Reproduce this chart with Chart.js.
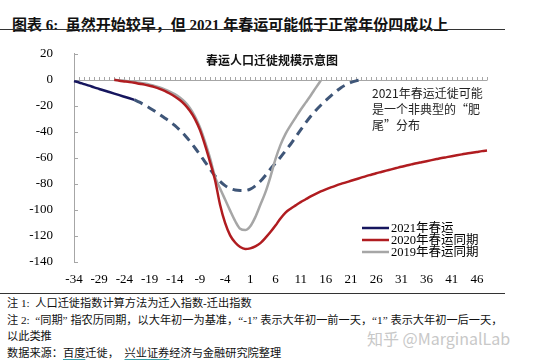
<!DOCTYPE html>
<html>
<head>
<meta charset="utf-8">
<script src="https://cdn.jsdelivr.net/npm/chart.js@4"></script>
<style>
  body { margin: 0; background: #fff; }
  #page { position: relative; width: 554px; height: 363px; overflow: hidden; font-family: "Liberation Serif", "Noto Sans CJK SC", serif; color: #111; }
  .abs { position: absolute; white-space: nowrap; }
  .rule { position: absolute; left: 0; width: 505px; height: 1px; background: #333; }
  .note { font-size: 11.2px; left: 7px; }
  .ul { text-decoration: underline; text-decoration-color: #3aa0a8; text-underline-offset: 2px; }
  canvas { display: block; }
</style>
</head>
<body>
<div id="page">
  <div class="abs" style="left:12px; top:13px; font-size:15px; font-weight:bold;">图表 6:&nbsp; 虽然开始较早，但 2021 年春运可能低于正常年份四成以上</div>
  <div class="rule" style="top:29px;"></div>

  <div class="abs" style="left:0; top:33px; width:554px; height:259px;">
    <canvas id="chart" width="554" height="259"></canvas>
  </div>

  <div class="abs" style="left:200px; top:51px; width:144px; text-align:center; font-size:12px; font-weight:bold; font-family:'Noto Sans CJK SC', sans-serif;">春运人口迁徙规模示意图</div>
  <div class="abs" style="left:372px; top:85px; font-size:12px; line-height:16px; font-family:'Noto Sans CJK SC', sans-serif; color:#222;">2021年春运迁徙可能<br>是一个非典型的“肥<br>尾”分布</div>

  <div class="rule" style="top:293px;"></div>
  <div class="abs note" style="top:294px;">注 1:&nbsp; 人口迁徙指数计算方法为迁入指数-迁出指数</div>
  <div class="abs note" style="top:311px;">注 2:&nbsp; “同期” 指农历同期，以大年初一为基准，“-1” 表示大年初一前一天，“1” 表示大年初一后一天，</div>
  <div class="abs note" style="top:327px;">以此类推</div>
  <div class="abs note" style="top:344px;">数据来源：<span class="ul">百度</span>迁徙，&nbsp; <span class="ul">兴业证券</span>经济与金融研究院整理</div>
  <div class="abs" style="left:367px; top:326px; font-size:16px; color:#c8c8c8; font-family:'Noto Sans CJK SC', sans-serif;">知乎 @MarginalLab</div>
</div>

<script>
// 以大年初一为基准的天数
var days = [-34, -33, -32, -31, -30, -29, -28, -27, -26, -25, -24, -23, -22, -21, -20, -19, -18, -17, -16, -15,
  -14, -13, -12, -11, -10, -9, -8, -7, -6, -5, -4, -3, -2, -1, 0, 1, 2, 3, 4, 5,
  6, 7, 8, 9, 10, 11, 12, 13, 14, 15, 16, 17, 18, 19, 20, 21, 22, 23, 24, 25,
  26, 27, 28, 29, 30, 31, 32, 33, 34, 35, 36, 37, 38, 39, 40, 41, 42, 43, 44, 45,
  46, 47, 48];

var yTicks = [20, 0, -20, -40, -60, -80, -100, -120, -140];

// 2021年春运 (实际, -34 ~ -22)
var data2021 = [-1, -2, -3.3, -4.5, -5.8, -7, -8.2, -9.4, -10.6, -11.8, -13, -14.2, -15.4];

// 2021年 "肥尾" 预估 (虚线, -22 ~ 23)
var data2021Est = [-15.4, -17.2, -19.3, -21.6, -24, -26.6, -29.3, -32, -35, -38.6,
  -42.6, -47.2, -52.2, -57.5, -63, -68.5, -73.8, -78, -81.3, -83.5,
  -84.7, -85, -85, -84, -81.5, -78, -73.5, -68.5, -64, -59.5,
  -54.5, -49.5, -44, -38.5, -33, -28, -23.5, -19.5, -15.8, -12.3,
  -9, -6, -3.8, -2, -0.8, 0];

// 2020年春运同期 (-26 ~ 48)
var data2020 = [0, -0.7, -1.2, -1.7, -2.3, -3, -3.7, -4.6, -5.6, -6.9,
  -8.5, -10.5, -12.8, -15.5, -19, -23.8, -30, -38.5, -50, -63,
  -77, -96, -110, -119.5, -125, -128.5, -130, -129.5, -128, -125.5,
  -121.5, -117, -112, -106.5, -102, -99, -96.5, -94, -91.8, -89.6,
  -87.6, -85.8, -84.2, -82.7, -81.3, -80, -78.8, -77.6, -76.4, -75.2,
  -74, -72.9, -71.8, -70.8, -69.8, -68.8, -67.8, -66.8, -65.9, -65,
  -64.1, -63.3, -62.5, -61.7, -60.9, -60.1, -59.4, -58.7, -58, -57.3,
  -56.6, -56, -55.4, -54.8, -54.3];

// 2019年春运同期 (-26 ~ 15)
var data2019 = [0, -0.3, -0.7, -1.1, -1.6, -2.2, -2.9, -3.7, -4.7, -5.9,
  -7.3, -9, -11, -13.6, -17, -21.6, -28, -36.5, -47.5, -60,
  -74.5, -83.5, -92, -100.5, -108.5, -114.5, -115.5, -112.5, -105.5, -96,
  -86.5, -74.5, -61, -50, -41.5, -35, -29, -23, -17.5, -12,
  -6.2, -0.5];

// 按天对齐到横轴
function place(values, firstDay) {
  var out = [];
  for (let i = 0; i < days.length; i++) {
    let k = days[i] - firstDay;
    out.push(k >= 0 && k < values.length ? values[k] : null);
  }
  return out;
}

const zeroAxisPlugin = {
  id: 'zeroAxis',
  beforeDatasetsDraw(chart) {
    const ctx = chart.ctx;
    const xs = chart.scales.x;
    const ys = chart.scales.y;
    const area = chart.chartArea;
    const y0 = Math.round(ys.getPixelForValue(0)) + 0.5;
    ctx.save();
    ctx.strokeStyle = '#a6a6a6';
    ctx.lineWidth = 1;
    ctx.beginPath();
    ctx.moveTo(area.left, y0);
    ctx.lineTo(area.right, y0);
    for (let i = 0; i < days.length; i++) {
      let x = Math.round(xs.getPixelForValue(i)) + 0.5;
      ctx.moveTo(x, y0);
      ctx.lineTo(x, y0 - 3.5);
    }
    for (let v of yTicks) {
      let y = Math.round(ys.getPixelForValue(v)) + 0.5;
      ctx.moveTo(area.left, y);
      ctx.lineTo(area.left + 4, y);
    }
    ctx.stroke();
    ctx.restore();
  }
};

const legendPlugin = {
  id: 'cornerLegend',
  afterDatasetsDraw(chart) {
    const ctx = chart.ctx;
    let row = 0;
    ctx.save();
    ctx.font = '12.5px "Liberation Serif", "Noto Sans CJK SC", serif';
    ctx.textBaseline = 'middle';
    ctx.fillStyle = '#000';
    chart.data.datasets.forEach(function(ds) {
      if (!ds.label) return;
      let y = 195 + row * 12;
      ctx.strokeStyle = ds.borderColor;
      ctx.lineWidth = 2.5;
      ctx.beginPath();
      ctx.moveTo(362, y);
      ctx.lineTo(389, y);
      ctx.stroke();
      ctx.fillText(ds.label, 391, y + 0.5);
      row++;
    });
    ctx.restore();
  }
};

new Chart(document.getElementById('chart'), {
  type: 'line',
  data: {
    labels: days,
    datasets: [
      {
        label: '2021年春运',
        data: place(data2021, -34),
        borderColor: '#16165e',
        borderWidth: 2.5
      },
      {
        label: '2020年春运同期',
        data: place(data2020, -26),
        borderColor: '#b01c20',
        borderWidth: 2.5
      },
      {
        label: '2019年春运同期',
        data: place(data2019, -26),
        borderColor: '#a6a6a6',
        borderWidth: 2.5
      },
      {
        label: '',
        data: place(data2021Est, -22),
        borderColor: '#3f5678',
        borderWidth: 3,
        borderDash: [9, 6]
      }
    ]
  },
  options: {
    responsive: false,
    animation: false,
    devicePixelRatio: 1,
    layout: { padding: { top: 6, right: 67, left: 0, bottom: 0 } },
    elements: {
      point: { radius: 0 },
      line: { fill: false, cubicInterpolationMode: 'monotone', borderCapStyle: 'butt' }
    },
    scales: {
      x: {
        grid: { display: false },
        border: { display: false },
        afterFit: function(scale) { scale.height = 30; },
        ticks: {
          autoSkip: false,
          maxRotation: 0,
          padding: 2,
          color: '#000',
          font: { family: 'Liberation Serif', size: 13 },
          callback: function(value, index) {
            return index % 5 === 0 ? days[index] : null;
          }
        }
      },
      y: {
        min: -140,
        max: 20,
        grid: { display: false },
        border: { color: '#a6a6a6', width: 1 },
        afterFit: function(scale) { scale.width = 74; },
        ticks: {
          stepSize: 20,
          padding: 13,
          color: '#000',
          font: { family: 'Liberation Serif', size: 13 }
        }
      }
    },
    plugins: {
      legend: { display: false },
      tooltip: { enabled: false }
    }
  },
  plugins: [zeroAxisPlugin, legendPlugin]
});
</script>
</body>
</html>
